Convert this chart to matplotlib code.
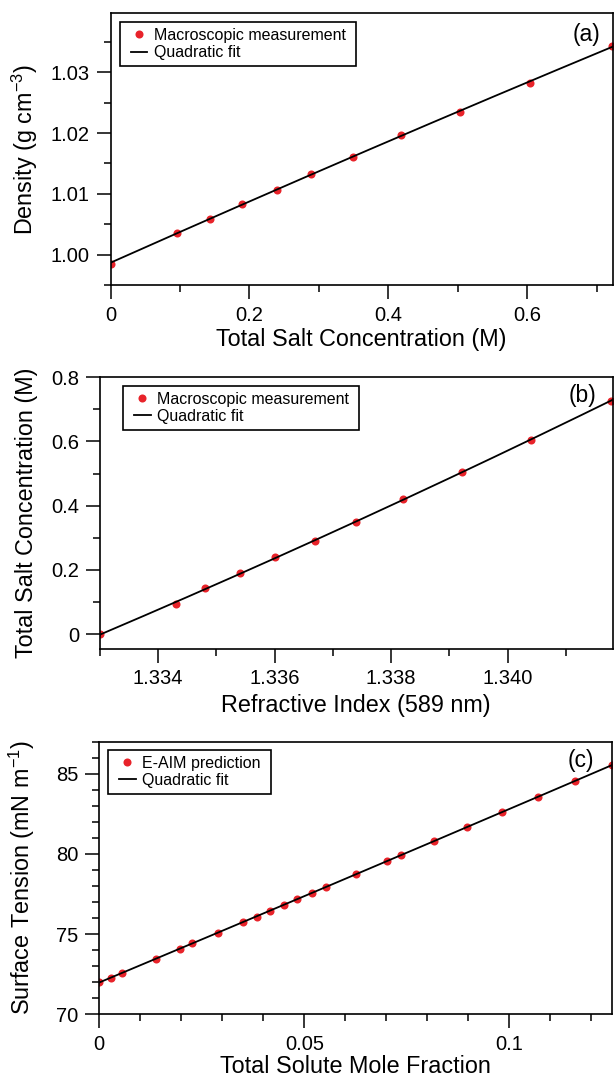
import matplotlib
matplotlib.use("Agg")
import matplotlib.pyplot as plt
import numpy as np
from matplotlib.lines import Line2D
from matplotlib.legend_handler import HandlerLine2D
from matplotlib.ticker import MultipleLocator, FormatStrFormatter, FuncFormatter
from matplotlib.transforms import blended_transform_factory

plt.rcParams['font.family'] = ['Liberation Sans', 'DejaVu Sans']
plt.rcParams['mathtext.fontset'] = 'custom'
plt.rcParams['mathtext.rm'] = 'Liberation Sans'
plt.rcParams['mathtext.default'] = 'regular'

# (a) density vs total salt concentration
conc_a = [0.0, 0.0954, 0.1427, 0.1895, 0.2390, 0.2892, 0.3495, 0.4187, 0.5032, 0.6036, 0.7220]
density = [0.99852, 1.00356, 1.00585, 1.00836, 1.01070, 1.01333, 1.01612, 1.01962, 1.02344, 1.02831, 1.03438]

# (b) total salt concentration vs refractive index
refr_index = [1.33300, 1.33431, 1.33480, 1.33540, 1.33600, 1.33670, 1.33740, 1.33821, 1.33921, 1.34040, 1.34177]
conc_b = [0.0, 0.0936, 0.1425, 0.1893, 0.2403, 0.2892, 0.3495, 0.4203, 0.5045, 0.6055, 0.7272]

# (c) surface tension vs total solute mole fraction
mole_frac = [0.0, 0.00278, 0.00555, 0.01388, 0.01971, 0.02268, 0.0289, 0.03512, 0.03847, 0.04163,
             0.04498, 0.04833, 0.05177, 0.05522, 0.06249, 0.07005, 0.07368, 0.08153, 0.08967,
             0.09828, 0.10708, 0.11608, 0.1250]
surf_tension = [72.0, 72.29, 72.56, 73.47, 74.10, 74.43, 75.10, 75.76, 76.09, 76.44, 76.80, 77.19,
                77.59, 77.96, 78.73, 79.54, 79.94, 80.81, 81.68, 82.60, 83.56, 84.53, 85.57]

RED = '#e8232a'
W, H = 614, 1079

fig = plt.figure(figsize=(W / 100, H / 100), dpi=100)


def px_axes(left, right, top, bottom):
    return fig.add_axes([left / W, 1 - bottom / H, (right - left) / W, (bottom - top) / H])


def style_axes(ax, xmaj, xmin, ymaj, ymin):
    ax.xaxis.set_major_locator(MultipleLocator(xmaj))
    ax.xaxis.set_minor_locator(MultipleLocator(xmin))
    ax.yaxis.set_major_locator(MultipleLocator(ymaj))
    ax.yaxis.set_minor_locator(MultipleLocator(ymin))
    ax.tick_params(which='both', direction='out', top=False, right=False, width=1.1, labelsize=14.5)
    ax.tick_params(which='major', length=10, pad=5)
    ax.tick_params(which='minor', length=5)
    for s in ax.spines.values():
        s.set_linewidth(1.2)


def draw_panel(ax, x, y, xlim, label, pt_label, xlabel, ylabel, ylab_x, xlab_y, leg_xy, tag, tag_xy):
    ax.plot(x, y, 'o', color=RED, markersize=5.8, markeredgewidth=0, label=pt_label, zorder=2)
    coef = np.polyfit(x, y, 2)
    xf = np.linspace(xlim[0], xlim[1], 200)
    ax.plot(xf, np.polyval(coef, xf), '-', color='black', lw=1.3, label=label, zorder=3)
    ax.set_xlim(*xlim)
    ax.set_xlabel(xlabel, fontsize=16.8)
    ax.set_ylabel(ylabel, fontsize=16.8)
    ax.yaxis.set_label_coords(ylab_x / W, 0.5,
                              transform=blended_transform_factory(fig.transFigure, ax.transAxes))
    ax.xaxis.set_label_coords(0.5, 1 - xlab_y / H,
                              transform=blended_transform_factory(ax.transAxes, fig.transFigure))
    leg = ax.legend(loc='upper left', bbox_to_anchor=(leg_xy[0] / W, 1 - leg_xy[1] / H),
                    bbox_transform=fig.transFigure, borderaxespad=0, fontsize=11.5,
                    fancybox=False, frameon=True, edgecolor='black', framealpha=1,
                    borderpad=0.35, handlelength=1.37, handletextpad=0.4, labelspacing=0.15,
                    handler_map={Line2D: HandlerLine2D(xpad=0.32)})
    leg.get_frame().set_linewidth(1.2)
    for t in leg.get_texts():
        t.set_text(t.get_text() + ' ')
    fig.text(tag_xy[0] / W, 1 - tag_xy[1] / H, tag, fontsize=16.5, ha='center', va='center')


gfmt = FuncFormatter(lambda v, p: '%g' % round(v, 6))

# panel (a)
ax1 = px_axes(110.5, 612.5, 13.3, 285)
draw_panel(ax1, conc_a, density, (0, 0.7225), 'Quadratic fit', 'Macroscopic measurement',
           'Total Salt Concentration (M)', 'Density (g cm$^{-3}$)', 40, 328,
           (120, 22.3), '(a)', (586.5, 34))
ax1.set_ylim(0.995, 1.0397)
style_axes(ax1, 0.2, 0.1, 0.01, 0.005)
ax1.xaxis.set_major_formatter(gfmt)
ax1.yaxis.set_major_formatter(FormatStrFormatter('%.2f'))

# panel (b)
ax2 = px_axes(100, 612.5, 377.3, 648.5)
draw_panel(ax2, refr_index, conc_b, (1.333, 1.3418), 'Quadratic fit', 'Macroscopic measurement',
           'Refractive Index (589 nm)', 'Total Salt Concentration (M)', 38, 694,
           (123.3, 386), '(b)', (583, 396))
ax2.set_ylim(-0.045, 0.8)
style_axes(ax2, 0.002, 0.001, 0.2, 0.1)
ax2.xaxis.set_major_formatter(FormatStrFormatter('%.3f'))
ax2.yaxis.set_major_formatter(gfmt)

# panel (c)
ax3 = px_axes(99.3, 612.3, 741.7, 1014.3)
draw_panel(ax3, mole_frac, surf_tension, (0, 0.1251), 'Quadratic fit', 'E-AIM prediction',
           'Total Solute Mole Fraction', 'Surface Tension (mN m$^{-1}$)', 37, 1055,
           (108.3, 750), '(c)', (580.7, 761))
ax3.set_ylim(70, 87)
style_axes(ax3, 0.05, 0.01, 5, 1)
ax3.xaxis.set_major_formatter(gfmt)
ax3.yaxis.set_major_formatter(gfmt)

fig.savefig('out.png', dpi=100)
